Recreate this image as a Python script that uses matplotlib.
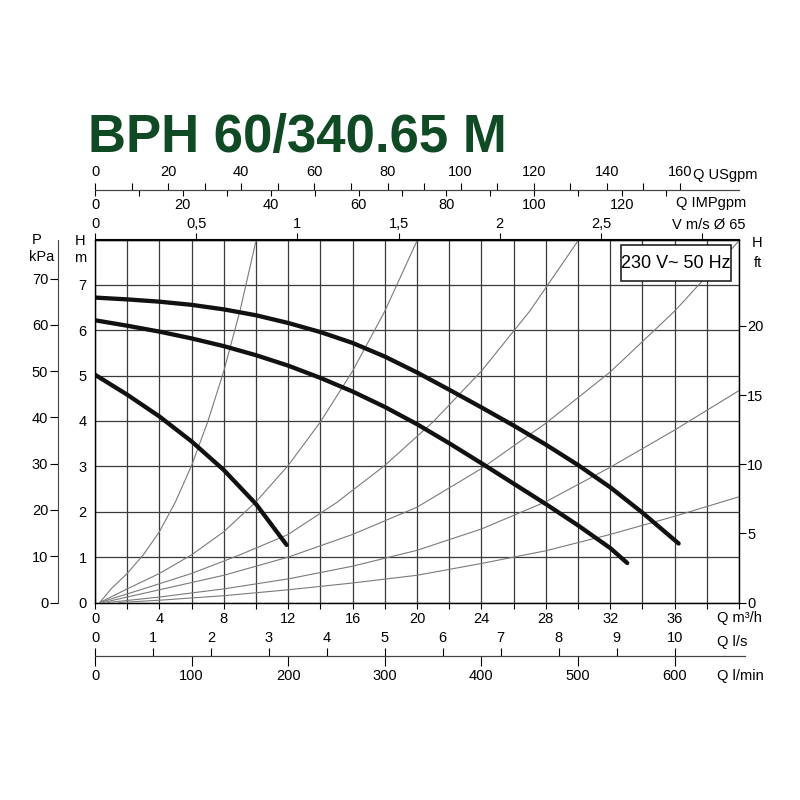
import matplotlib.pyplot as plt
from matplotlib.patches import Rectangle
import numpy as np

plt.rcParams['font.family'] = ['Liberation Sans', 'DejaVu Sans']

# pump curves, Q in m3/h, H in m
q_high = [0, 2, 4, 6, 8, 10, 12, 14, 16, 18, 20, 22, 24, 26, 28, 30, 32, 34, 36.25]
h_high = [6.72, 6.68, 6.63, 6.56, 6.46, 6.33, 6.16, 5.96, 5.72, 5.42, 5.07, 4.69,
          4.30, 3.90, 3.48, 3.03, 2.54, 1.98, 1.30]
q_mid = [0, 2, 4, 6, 8, 10, 12, 14, 16, 18, 20, 22, 24, 26, 28, 30, 32, 33.06]
h_mid = [6.22, 6.10, 5.97, 5.82, 5.65, 5.45, 5.22, 4.95, 4.65, 4.31, 3.93, 3.51,
         3.07, 2.62, 2.17, 1.70, 1.20, 0.87]
q_low = [0, 2, 4, 6, 8, 10, 11.9]
h_low = [5.02, 4.58, 4.10, 3.55, 2.92, 2.17, 1.27]

# thin system curves
sys_a_q = [0.3, 1, 2, 3, 4, 5, 6, 7, 8, 9, 10]
sys_a_h = [0, 0.30, 0.64, 1.05, 1.56, 2.22, 3.02, 3.98, 5.10, 6.42, 7.97]
sys_b_q = [0.3, 2, 4, 6, 8, 10, 12, 14, 16, 18, 20]
sys_b_h = [0, 0.30, 0.64, 1.05, 1.56, 2.22, 3.02, 3.98, 5.10, 6.42, 7.97]
sys_c_q = [0.3, 3, 6, 9, 12, 15, 18, 21, 24, 27, 30]
sys_c_h = [0, 0.30, 0.64, 1.05, 1.50, 2.20, 3.02, 3.98, 5.10, 6.42, 7.97]
sys_d_q = [0.5, 4, 8, 12, 16, 20, 24, 28, 32, 36, 40]
sys_d_h = [0, 0.28, 0.60, 1.00, 1.50, 2.10, 2.95, 3.95, 5.08, 6.42, 7.97]
sys_e_q = [0.8, 4, 8, 12, 16, 20, 24, 28, 32, 36, 40]
sys_e_h = [0, 0.12, 0.30, 0.52, 0.80, 1.15, 1.62, 2.22, 2.98, 3.80, 4.67]
sys_f_q = [1.5, 4, 8, 12, 16, 20, 24, 28, 32, 36, 40]
sys_f_h = [0, 0.05, 0.15, 0.28, 0.43, 0.60, 0.86, 1.14, 1.50, 1.90, 2.33]

q_ticks = [0, 4, 8, 12, 16, 20, 24, 28, 32, 36]
h_ticks = [0, 1, 2, 3, 4, 5, 6, 7]
kpa_ticks = [0, 10, 20, 30, 40, 50, 60, 70]
ft_ticks = [0, 5, 10, 15, 20]
v_ticks = [0, 0.5, 1, 1.5, 2, 2.5, 3]
v_labels = ['0', '0,5', '1', '1,5', '2', '2,5', '']
usgpm_ticks = [0, 20, 40, 60, 80, 100, 120, 140, 160]
impgpm_ticks = [0, 20, 40, 60, 80, 100, 120]
ls_ticks = [0, 1, 2, 3, 4, 5, 6, 7, 8, 9, 10]
lmin_ticks = [0, 100, 200, 300, 400, 500, 600]

W = 800.0
FS = 10.5


def fx(px):
    return px / W


def fy(py):
    return 1 - py / W


fig = plt.figure(figsize=(8, 8), dpi=100)

left, right, top, bot = 95, 739, 239.5, 602.5
ax = fig.add_axes([fx(left), fy(bot), (right - left) / W, (bot - top) / W])
ax.set_xlim(0, 40)
ax.set_ylim(0, 8)
ax.set_xticks(np.arange(0, 41, 2))
ax.set_xticklabels([str(t) if t in q_ticks else '' for t in range(0, 41, 2)])
ax.set_yticks(range(0, 9))
ax.set_yticklabels([str(t) if t in h_ticks else '' for t in range(0, 9)])
ax.tick_params(axis='x', length=4, width=0.8, pad=3, labelsize=FS)
ax.tick_params(axis='y', length=0, pad=6, labelsize=FS)
ax.grid(True, color='#3a3a3a', lw=0.9)
for s in ax.spines.values():
    s.set_color('#222')
    s.set_linewidth(1)

grey = '#7a7a7a'
for qq, hh in [(sys_a_q, sys_a_h), (sys_b_q, sys_b_h), (sys_c_q, sys_c_h),
               (sys_d_q, sys_d_h), (sys_e_q, sys_e_h), (sys_f_q, sys_f_h)]:
    ax.plot(qq, hh, color=grey, lw=0.8, zorder=3)

for qq, hh in [(q_high, h_high), (q_mid, h_mid), (q_low, h_low)]:
    ax.plot(qq, hh, color='#111', lw=3.1, solid_capstyle='round',
            solid_joinstyle='round', zorder=4)

ax.add_patch(Rectangle((32.7, 7.08), 6.8, 0.79, facecolor='white',
                       edgecolor='#111', lw=1.1, zorder=5))
ax.text(36.1, 7.47, '230 V~ 50 Hz', ha='center', va='center', fontsize=13, zorder=6)

# feet on the right
ax_ft = ax.twinx()
ax_ft.set_ylim(0, 8 / 0.3048)
ax_ft.set_yticks(ft_ticks)
ax_ft.tick_params(axis='y', length=5, width=0.8, pad=1, labelsize=FS)

# kPa on the left
ax_kpa = fig.add_axes([fx(58), fy(bot), 0.0005, (bot - top) / W])
ax_kpa.set_ylim(0, 8 * 9.80665)
ax_kpa.set_yticks(kpa_ticks)
ax_kpa.set_xticks([])
ax_kpa.patch.set_visible(False)
for k in ['top', 'right', 'bottom']:
    ax_kpa.spines[k].set_visible(False)
ax_kpa.spines['left'].set_color('#444')
ax_kpa.tick_params(axis='y', length=6, width=0.8, pad=1, labelsize=FS)

# velocity on top of the plot
sec_v = ax.secondary_xaxis('top', functions=(lambda q: q / 12.57, lambda v: v * 12.57))
sec_v.set_xticks(v_ticks)
sec_v.set_xticklabels(v_labels)
sec_v.tick_params(length=4, width=0.8, pad=2, labelsize=FS)

# USgpm / IMPgpm scale
ax_gpm = fig.add_axes([fx(left), fy(190), (right - left) / W, 0.0001])
ax_gpm.set_xlim(0, 40)
ax_gpm.set_xticks([])
ax_gpm.set_yticks([])
ax_gpm.patch.set_visible(False)
for s in ax_gpm.spines.values():
    s.set_visible(False)
us = ax_gpm.secondary_xaxis('top', functions=(lambda q: q * 4.403, lambda u: u / 4.403))
us.set_xticks(usgpm_ticks)
us.set_xticks(np.arange(10, 161, 20), minor=True)
us.tick_params(which='both', length=5, width=0.8, pad=3, labelsize=FS)
us.spines['top'].set_color('#444')
imp = ax_gpm.secondary_xaxis('bottom', functions=(lambda q: q * 3.666, lambda i: i / 3.666))
imp.set_xticks(impgpm_ticks)
imp.set_xticks(np.arange(10, 131, 20), minor=True)
imp.tick_params(which='both', length=4, width=0.8, pad=2, labelsize=FS)
imp.spines['bottom'].set_color('#444')

# l/s and l/min scale
ax_ls = fig.add_axes([fx(left), fy(656), (745 - left) / W, 0.0001])
ax_ls.set_xlim(0, 40 * (745 - left) / (right - left))
ax_ls.set_xticks([])
ax_ls.set_yticks([])
ax_ls.patch.set_visible(False)
for s in ax_ls.spines.values():
    s.set_visible(False)
ls = ax_ls.secondary_xaxis('top', functions=(lambda q: q / 3.6, lambda l: l * 3.6))
ls.set_xticks(ls_ticks)
ls.tick_params(length=6, width=0.8, pad=2, labelsize=FS)
ls.spines['top'].set_color('#444')
lm = ax_ls.secondary_xaxis('bottom', functions=(lambda q: q / 0.06, lambda l: l * 0.06))
lm.set_xticks(lmin_ticks)
lm.tick_params(length=7, width=0.8, pad=2, labelsize=FS)
lm.spines['bottom'].set_color('#444')

# title and axis captions
fig.text(fx(88), fy(152), 'BPH 60/340.65 M', fontsize=38, fontweight='bold',
         color='#0f4a25', ha='left', va='baseline')
cap = dict(fontsize=FS, va='center')
fig.text(fx(37), fy(240), 'P', ha='center', **cap)
fig.text(fx(42), fy(257), 'kPa', ha='center', **cap)
fig.text(fx(80), fy(241), 'H', ha='center', **cap)
fig.text(fx(80), fy(258), 'm', ha='center', **cap)
fig.text(fx(757), fy(243), 'H', ha='center', **cap)
fig.text(fx(758), fy(263), 'ft', ha='center', **cap)
fig.text(fx(693), fy(175), 'Q USgpm', ha='left', **cap)
fig.text(fx(746), fy(203), 'Q IMPgpm', ha='right', **cap)
fig.text(fx(746), fy(225), 'V m/s Ø 65', ha='right', **cap)
fig.text(fx(717), fy(618), 'Q m³/h', ha='left', **cap)
fig.text(fx(717), fy(642), 'Q l/s', ha='left', **cap)
fig.text(fx(717), fy(676), 'Q l/min', ha='left', **cap)

fig.savefig('out.png', dpi=100, facecolor='white')
